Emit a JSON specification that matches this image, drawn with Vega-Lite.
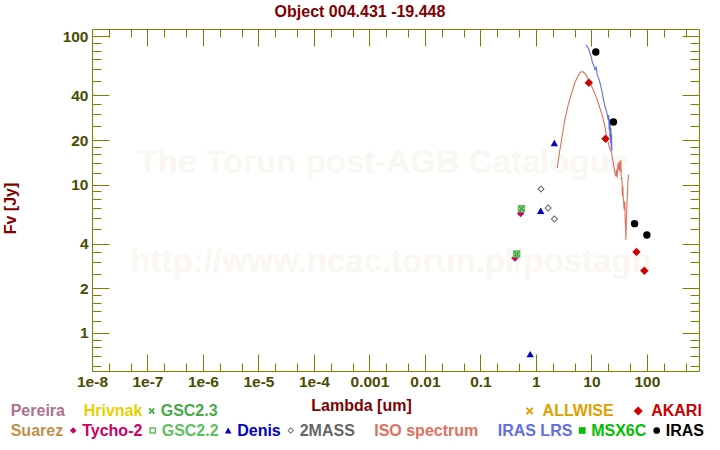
{
  "$schema": "https://vega.github.io/schema/vega-lite/v6.json",
  "width": 607,
  "height": 342,
  "autosize": {"type": "none"},
  "padding": {"left": 92, "top": 29, "right": 21, "bottom": 79},
  "background": "white",
  "config": {
    "font": "Liberation Sans",
    "view": {"stroke": "#808000", "strokeWidth": 1},
    "axis": {
      "domain": false, "grid": false, "tickColor": "#808000", "tickWidth": 1,
      "labelColor": "#4b4b00", "labelFont": "Liberation Sans", "labelFontSize": 15.5, "labelFontWeight": "bold",
      "labelFlush": false, "labelOverlap": false,
      "titleColor": "#800000", "titleFont": "Liberation Sans", "titleFontSize": 16, "titleFontWeight": "bold"
    },
    "legend": {"padding": 0, "labelFont": "Liberation Sans", "labelFontSize": 16, "labelFontWeight": "bold", "labelLimit": 0}
  },
  "title": {"text": "Object 004.431 -19.448", "font": "Liberation Sans", "fontSize": 16, "fontWeight": "bold", "color": "#800000", "anchor": "middle", "frame": "group", "dx": -35.5, "offset": 9},
  "datasets": {
    "pts": [
      {"series": "Tycho-2", "lam": 0.42, "flux": 3.2},
      {"series": "Tycho-2", "lam": 0.53, "flux": 6.4},
      {"series": "GSC2.2", "lam": 0.45, "flux": 3.41},
      {"series": "GSC2.2", "lam": 0.55, "flux": 6.89},
      {"series": "GSC2.3", "lam": 0.45, "flux": 3.41},
      {"series": "GSC2.3", "lam": 0.55, "flux": 6.89},
      {"series": "Denis", "lam": 0.79, "flux": 0.72},
      {"series": "Denis", "lam": 1.22, "flux": 6.68},
      {"series": "Denis", "lam": 2.15, "flux": 19.1},
      {"series": "2MASS", "lam": 1.235, "flux": 9.35},
      {"series": "2MASS", "lam": 1.662, "flux": 6.96},
      {"series": "2MASS", "lam": 2.159, "flux": 5.87},
      {"series": "IRAS", "lam": 12, "flux": 78.5},
      {"series": "IRAS", "lam": 25, "flux": 26.5},
      {"series": "IRAS", "lam": 60, "flux": 5.46},
      {"series": "IRAS", "lam": 100, "flux": 4.58},
      {"series": "AKARI", "lam": 9, "flux": 48.7},
      {"series": "AKARI", "lam": 18, "flux": 20.4},
      {"series": "AKARI", "lam": 65, "flux": 3.52},
      {"series": "AKARI", "lam": 90, "flux": 2.63}
    ],
    "spec": [
      {"series": "ISO spectrum", "lam": 2.42, "flux": 12.97},
      {"series": "ISO spectrum", "lam": 2.71, "flux": 17.2},
      {"series": "ISO spectrum", "lam": 3.03, "flux": 22.3},
      {"series": "ISO spectrum", "lam": 3.33, "flux": 27.4},
      {"series": "ISO spectrum", "lam": 3.82, "flux": 34.5},
      {"series": "ISO spectrum", "lam": 4.4, "flux": 41.5},
      {"series": "ISO spectrum", "lam": 5.05, "flux": 48.9},
      {"series": "ISO spectrum", "lam": 5.78, "flux": 54.3},
      {"series": "ISO spectrum", "lam": 6.39, "flux": 57.5},
      {"series": "ISO spectrum", "lam": 7.11, "flux": 57.8},
      {"series": "ISO spectrum", "lam": 7.96, "flux": 55.2},
      {"series": "ISO spectrum", "lam": 9.12, "flux": 49.8},
      {"series": "ISO spectrum", "lam": 10.8, "flux": 43.7},
      {"series": "ISO spectrum", "lam": 12.4, "flux": 38.5},
      {"series": "ISO spectrum", "lam": 14.2, "flux": 32.9},
      {"series": "ISO spectrum", "lam": 15.9, "flux": 28.9},
      {"series": "ISO spectrum", "lam": 17.5, "flux": 24.7},
      {"series": "ISO spectrum", "lam": 18.8, "flux": 21.2},
      {"series": "ISO spectrum", "lam": 20.9, "flux": 18.1},
      {"series": "ISO spectrum", "lam": 23.1, "flux": 16.4},
      {"series": "ISO spectrum", "lam": 25.4, "flux": 13.3},
      {"series": "ISO spectrum", "lam": 26.5, "flux": 12.0},
      {"series": "ISO spectrum", "lam": 27.6, "flux": 11.4},
      {"series": "ISO spectrum", "lam": 28.4, "flux": 12.6},
      {"series": "ISO spectrum", "lam": 29.2, "flux": 11.2},
      {"series": "ISO spectrum", "lam": 29.7, "flux": 13.0},
      {"series": "ISO spectrum", "lam": 30.4, "flux": 14.0},
      {"series": "ISO spectrum", "lam": 31.3, "flux": 12.5},
      {"series": "ISO spectrum", "lam": 31.8, "flux": 14.4},
      {"series": "ISO spectrum", "lam": 32.6, "flux": 12.3},
      {"series": "ISO spectrum", "lam": 33.3, "flux": 13.5},
      {"series": "ISO spectrum", "lam": 34.0, "flux": 14.7},
      {"series": "ISO spectrum", "lam": 34.5, "flux": 11.5},
      {"series": "ISO spectrum", "lam": 35.0, "flux": 10.8},
      {"series": "ISO spectrum", "lam": 35.5, "flux": 11.1},
      {"series": "ISO spectrum", "lam": 36.0, "flux": 9.0},
      {"series": "ISO spectrum", "lam": 36.5, "flux": 8.34},
      {"series": "ISO spectrum", "lam": 37.0, "flux": 9.74},
      {"series": "ISO spectrum", "lam": 37.5, "flux": 8.2},
      {"series": "ISO spectrum", "lam": 38.0, "flux": 7.92},
      {"series": "ISO spectrum", "lam": 38.5, "flux": 7.14},
      {"series": "ISO spectrum", "lam": 39.0, "flux": 6.78},
      {"series": "ISO spectrum", "lam": 39.6, "flux": 7.6},
      {"series": "ISO spectrum", "lam": 40.2, "flux": 7.53},
      {"series": "ISO spectrum", "lam": 40.6, "flux": 5.81},
      {"series": "ISO spectrum", "lam": 41.3, "flux": 5.23},
      {"series": "ISO spectrum", "lam": 41.9, "flux": 4.26},
      {"series": "ISO spectrum", "lam": 42.4, "flux": 5.0},
      {"series": "ISO spectrum", "lam": 43.1, "flux": 6.45},
      {"series": "ISO spectrum", "lam": 44.2, "flux": 7.92},
      {"series": "ISO spectrum", "lam": 45.5, "flux": 10.3},
      {"series": "ISO spectrum", "lam": 46.8, "flux": 11.7},
      {"series": "IRAS LRS", "lam": 7.96, "flux": 87.9},
      {"series": "IRAS LRS", "lam": 8.75, "flux": 83.5},
      {"series": "IRAS LRS", "lam": 9.68, "flux": 75.3},
      {"series": "IRAS LRS", "lam": 10.5, "flux": 66.2},
      {"series": "IRAS LRS", "lam": 11.0, "flux": 64.0},
      {"series": "IRAS LRS", "lam": 11.6, "flux": 59.6},
      {"series": "IRAS LRS", "lam": 12.2, "flux": 62.0},
      {"series": "IRAS LRS", "lam": 12.7, "flux": 55.2},
      {"series": "IRAS LRS", "lam": 13.8, "flux": 51.1},
      {"series": "IRAS LRS", "lam": 15.3, "flux": 43.7},
      {"series": "IRAS LRS", "lam": 16.3, "flux": 38.5},
      {"series": "IRAS LRS", "lam": 17.5, "flux": 33.8},
      {"series": "IRAS LRS", "lam": 18.8, "flux": 31.2},
      {"series": "IRAS LRS", "lam": 20.1, "flux": 27.4},
      {"series": "IRAS LRS", "lam": 20.5, "flux": 29.5},
      {"series": "IRAS LRS", "lam": 20.9, "flux": 23.5},
      {"series": "IRAS LRS", "lam": 21.2, "flux": 28.0},
      {"series": "IRAS LRS", "lam": 21.5, "flux": 21.0},
      {"series": "IRAS LRS", "lam": 21.8, "flux": 26.5},
      {"series": "IRAS LRS", "lam": 22.2, "flux": 19.0},
      {"series": "IRAS LRS", "lam": 22.5, "flux": 24.0},
      {"series": "IRAS LRS", "lam": 22.8, "flux": 17.5},
      {"series": "IRAS LRS", "lam": 23.1, "flux": 22.0},
      {"series": "IRAS LRS", "lam": 23.4, "flux": 16.8}
    ]
  },
  "resolve": {"axis": {"x": "independent", "y": "independent"}},
  "layer": [
    {
      "data": {"values": [{}]},
      "mark": {"type": "text", "text": "The Torun post-AGB Catalogue", "fontSize": 33, "fontWeight": "bold", "fill": "#faf6f0", "align": "center", "baseline": "middle"},
      "encoding": {
        "x": {"datum": 0.00175, "type": "quantitative", "scale": {"type": "log", "domain": [1e-8, 870], "nice": false}, "axis": null},
        "y": {"datum": 14.1, "type": "quantitative", "scale": {"type": "log", "domain": [0.554, 112.2], "nice": false}, "axis": null}
      }
    },
    {
      "data": {"values": [{}]},
      "mark": {"type": "text", "text": "http://www.ncac.torun.pl/postagb", "fontSize": 33, "fontWeight": "bold", "fill": "#faf6f0", "align": "center", "baseline": "middle"},
      "encoding": {
        "x": {"datum": 0.00244, "type": "quantitative", "scale": {"type": "log", "domain": [1e-8, 870], "nice": false}, "axis": null},
        "y": {"datum": 3.03, "type": "quantitative", "scale": {"type": "log", "domain": [0.554, 112.2], "nice": false}, "axis": null}
      }
    },
    {
      "data": {"name": "spec"},
      "transform": [{"filter": "datum.series == 'ISO spectrum'"}],
      "mark": {"type": "line", "strokeWidth": 1.1, "stroke": "#e07060"},
      "encoding": {
        "x": {"field": "lam", "type": "quantitative", "scale": {"type": "log", "domain": [1e-8, 870], "nice": false},
          "axis": {"orient": "bottom", "values": [1e-8, 1e-7, 1e-6, 1e-5, 1e-4, 0.001, 0.01, 0.1, 1, 10, 100], "tickSize": -17, "labelPadding": 20,
            "labelExpr": "datum.value >= 0.001 ? toString(datum.value) : '1e' + round(log(datum.value) / LN10)",
            "title": "Lambda [um]", "titleX": 269, "titleY": 34, "titleBaseline": "middle", "titleAlign": "center", "titleAnchor": null}},
        "y": {"field": "flux", "type": "quantitative", "scale": {"type": "log", "domain": [0.554, 112.2], "nice": false},
          "axis": {"orient": "left", "values": [1, 2, 4, 10, 20, 40, 100], "tickSize": -17, "labelPadding": 21, "labelExpr": "toString(datum.value)",
            "title": "Fv [Jy]", "titleX": -82, "titleY": 179, "titleAngle": -90, "titleBaseline": "middle", "titleAlign": "center", "titleAnchor": null}}
      }
    },
    {
      "data": {"name": "spec"},
      "transform": [{"filter": "datum.series == 'IRAS LRS'"}],
      "mark": {"type": "line", "strokeWidth": 1.1, "stroke": "#6070e0"},
      "encoding": {
        "x": {"field": "lam", "type": "quantitative", "scale": {"type": "log", "domain": [1e-8, 870], "nice": false}, "axis": null},
        "y": {"field": "flux", "type": "quantitative", "scale": {"type": "log", "domain": [0.554, 112.2], "nice": false}, "axis": null}
      }
    },
    {
      "data": {"name": "pts"},
      "transform": [{"filter": {"field": "series", "oneOf": ["Tycho-2", "GSC2.2", "Denis", "2MASS", "MSX6C", "IRAS"]}}],
      "mark": {"type": "point", "filled": true, "opacity": 1, "size": 55},
      "encoding": {
        "x": {"field": "lam", "type": "quantitative", "scale": {"type": "log", "domain": [1e-8, 870], "nice": false},
          "axis": {"orient": "bottom", "values": [2e-8, 5e-8, 2e-7, 5e-7, 2e-6, 5e-6, 2e-5, 5e-5, 2e-4, 5e-4, 0.002, 0.005, 0.02, 0.05, 0.2, 0.5, 2, 5, 20, 50, 200, 500], "tickSize": -8, "labels": false, "title": null}},
        "y": {"field": "flux", "type": "quantitative", "scale": {"type": "log", "domain": [0.554, 112.2], "nice": false},
          "axis": {"orient": "left", "values": [0.6, 0.7, 0.8, 0.9, 1.2, 1.4, 1.6, 1.8, 2.5, 3, 3.5, 5, 6, 7, 8, 9, 12, 14, 16, 18, 25, 30, 35, 50, 60, 70, 80, 90], "tickSize": -9, "labels": false, "title": null}},
        "color": {"field": "series", "type": "nominal",
          "scale": {"domain": ["Suarez", "Tycho-2", "GSC2.2", "Denis", "2MASS", "ISO spectrum", "IRAS LRS", "MSX6C", "IRAS"],
                    "range": ["#c0904a", "#cc0066", "#60c060", "#0000c0", "#666666", "#e07060", "#6070e0", "#00c000", "#000000"]},
          "legend": {"title": null, "orient": "none", "legendX": -98.3, "legendY": 393.5, "direction": "horizontal",
            "labelColor": {"expr": "scale('color', datum.value)"}, "labelOffset": 1, "columnPadding": 1.5, "symbolSize": 45,
            "symbolOpacity": {"expr": "indexof(['Suarez', 'ISO spectrum', 'IRAS LRS'], datum.value) >= 0 ? 0 : 1"}}},
        "shape": {"field": "series", "type": "nominal",
          "scale": {"domain": ["Suarez", "Tycho-2", "GSC2.2", "Denis", "2MASS", "ISO spectrum", "IRAS LRS", "MSX6C", "IRAS"],
                    "range": ["circle", "diamond", "M-1,-1L1,-1L1,1L-1,1ZM-0.55,-0.55L-0.55,0.55L0.55,0.55L0.55,-0.55Z", "triangle-up", "M0,-1L1,0L0,1L-1,0ZM0,-0.6L-0.6,0L0,0.6L0.6,0Z", "circle", "circle", "square", "circle"]},
          "legend": {"title": null, "orient": "none", "legendX": -98.3, "legendY": 393.5, "direction": "horizontal",
            "labelColor": {"expr": "scale('color', datum.value)"}, "labelOffset": 1, "columnPadding": 1.5, "symbolSize": 45,
            "symbolOpacity": {"expr": "indexof(['Suarez', 'ISO spectrum', 'IRAS LRS'], datum.value) >= 0 ? 0 : 1"}}}
      }
    },
    {
      "data": {"name": "pts"},
      "transform": [{"filter": "datum.series == 'GSC2.3'"}],
      "mark": {"type": "point", "filled": true, "opacity": 1, "size": 40, "shape": "M-1,-0.6L-0.6,-1L0,-0.4L0.6,-1L1,-0.6L0.4,0L1,0.6L0.6,1L0,0.4L-0.6,1L-1,0.6L-0.4,0Z"},
      "encoding": {
        "x": {"field": "lam", "type": "quantitative", "scale": {"type": "log", "domain": [1e-8, 870], "nice": false},
          "axis": {"orient": "top", "values": [1e-8, 1e-7, 1e-6, 1e-5, 1e-4, 0.001, 0.01, 0.1, 1, 10, 100], "tickSize": -17, "labels": false, "title": null}},
        "y": {"field": "flux", "type": "quantitative", "scale": {"type": "log", "domain": [0.554, 112.2], "nice": false},
          "axis": {"orient": "right", "values": [1, 2, 4, 10, 20, 40, 100], "tickSize": -17, "labels": false, "title": null}},
        "fill": {"field": "series", "type": "nominal",
          "scale": {"domain": ["Pereira", "Hrivnak", "GSC2.3"], "range": ["#b07090", "#e8d000", "#44aa44"]},
          "legend": {"title": null, "orient": "none", "legendX": -98.3, "legendY": 374, "direction": "horizontal",
            "labelColor": {"expr": "scale('fill', datum.value)"}, "labelOffset": 1, "columnPadding": 1, "symbolSize": 40,
            "symbolOpacity": {"expr": "datum.value == 'GSC2.3' ? 1 : 0"}}}
      }
    },
    {
      "data": {"name": "pts"},
      "transform": [{"filter": "datum.series == 'AKARI'"}],
      "mark": {"type": "point", "filled": true, "fill": "#cc0000", "opacity": 1, "size": 55, "shape": "diamond", "strokeWidth": 1},
      "encoding": {
        "x": {"field": "lam", "type": "quantitative", "scale": {"type": "log", "domain": [1e-8, 870], "nice": false},
          "axis": {"orient": "top", "values": [2e-8, 5e-8, 2e-7, 5e-7, 2e-6, 5e-6, 2e-5, 5e-5, 2e-4, 5e-4, 0.002, 0.005, 0.02, 0.05, 0.2, 0.5, 2, 5, 20, 50, 200, 500], "tickSize": -8, "labels": false, "title": null}},
        "y": {"field": "flux", "type": "quantitative", "scale": {"type": "log", "domain": [0.554, 112.2], "nice": false},
          "axis": {"orient": "right", "values": [0.6, 0.7, 0.8, 0.9, 1.2, 1.4, 1.6, 1.8, 2.5, 3, 3.5, 5, 6, 7, 8, 9, 12, 14, 16, 18, 25, 30, 35, 50, 60, 70, 80, 90], "tickSize": -9, "labels": false, "title": null}},
        "stroke": {"field": "series", "type": "nominal",
          "scale": {"domain": ["ALLWISE", "AKARI"], "range": ["#e0a000", "#cc0000"]},
          "legend": {"title": null, "orient": "none", "legendX": 429.6, "legendY": 374, "direction": "horizontal",
            "labelColor": {"expr": "scale('stroke', datum.value)"}, "labelOffset": 5, "columnPadding": 15.6, "symbolSize": 40,
            "symbolStrokeWidth": 2,
            "symbolType": {"expr": "datum.value == 'ALLWISE' ? 'M-1,-1L1,1M1,-1L-1,1' : 'diamond'"}}}
      }
    }
  ]
}
